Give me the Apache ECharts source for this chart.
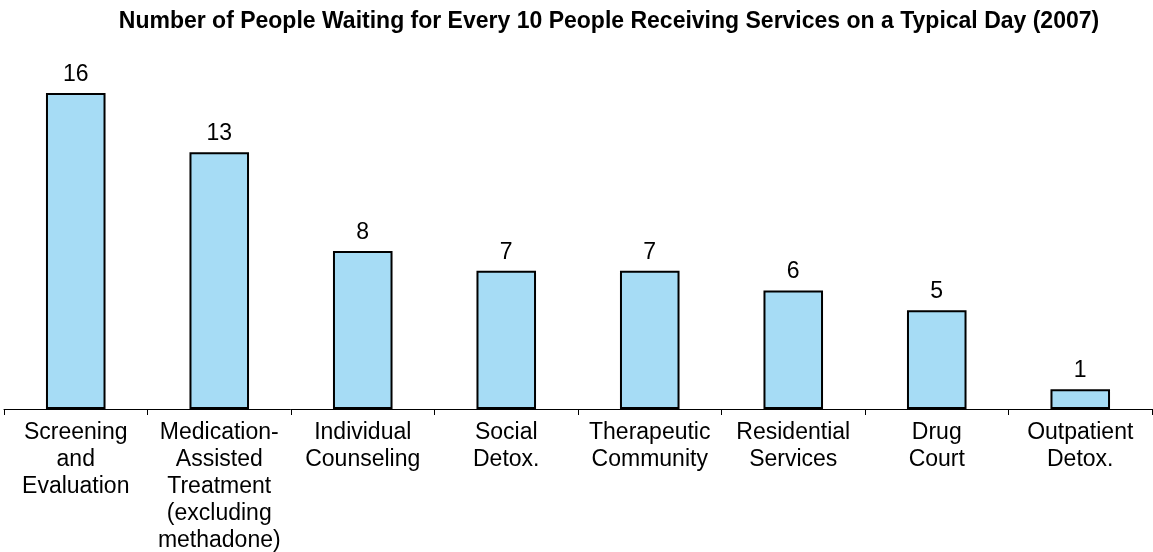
<!DOCTYPE html>
<html>
<head>
<meta charset="utf-8">
<script src="https://cdn.jsdelivr.net/npm/echarts@6/dist/echarts.min.js"></script>
<style>
html,body{margin:0;padding:0;background:#fff;}
#chart{width:1153px;height:552px;}
</style>
</head>
<body>
<div id="chart"></div>
<script>
const titleText = 'Number of People Waiting for Every 10 People Receiving Services on a Typical Day (2007)';
const categories = [
  'Screening\nand\nEvaluation',
  'Medication-\nAssisted\nTreatment\n(excluding\nmethadone)',
  'Individual\nCounseling',
  'Social\nDetox.',
  'Therapeutic\nCommunity',
  'Residential\nServices',
  'Drug\nCourt',
  'Outpatient\nDetox.'
];
const values = [16, 13, 8, 7, 7, 6, 5, 1];

const chart = echarts.init(document.getElementById('chart'));
chart.setOption({
  animation: false,
  backgroundColor: '#ffffff',
  title: {
    text: titleText,
    left: 604,
    textAlign: 'center',
    top: 5,
    textStyle: {fontFamily: 'Liberation Sans', fontWeight: 'bold', fontSize: 23, color: '#000'}
  },
  grid: {left: 4, right: 1, top: 93, bottom: 143, containLabel: false, outerBoundsMode: 'none'},
  xAxis: {
    type: 'category',
    data: categories,
    boundaryGap: true,
    axisLine: {show: true, lineStyle: {color: '#000', width: 1}},
    axisTick: {show: true, length: 6, lineStyle: {color: '#000'}},
    axisLabel: {
      interval: 0,
      margin: 10,
      fontFamily: 'Liberation Sans',
      fontSize: 23,
      lineHeight: 27,
      color: '#000'
    }
  },
  yAxis: {
    type: 'value',
    min: 0,
    max: 16,
    show: false,
    splitLine: {show: false}
  },
  series: [{
    type: 'bar',
    data: values,
    barWidth: '41.5%',
    itemStyle: {color: '#A6DCF5', borderColor: '#000', borderWidth: 2},
    label: {
      show: true,
      position: 'top',
      distance: 7,
      fontFamily: 'Liberation Sans',
      fontSize: 23,
      color: '#000'
    }
  }]
});
</script>
</body>
</html>
